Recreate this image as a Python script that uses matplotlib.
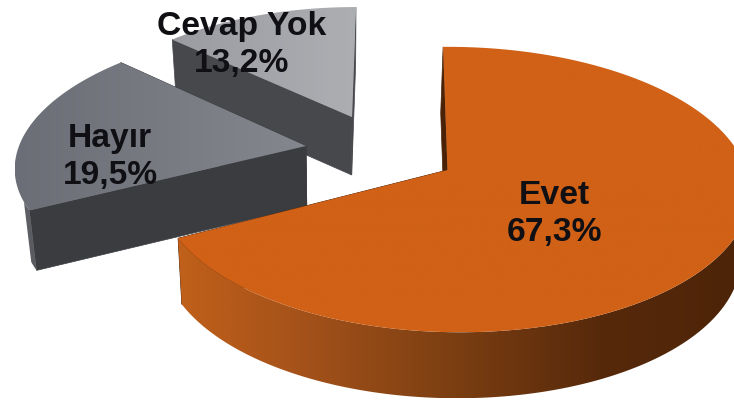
import numpy as np
import matplotlib
matplotlib.use("Agg")
import matplotlib.pyplot as plt
from matplotlib.colors import to_rgb
from matplotlib.patches import Polygon

labels = ["Evet", "Hayır", "Cevap Yok"]
values = [67.3, 19.5, 13.2]
value_text = ["67,3%", "19,5%", "13,2%"]

# Layout in pixel space; angles themselves come from the values.
W, H = 734, 403
START = 90.0
STYLE = {
    "Evet": dict(apex=(447.5, 170), R=293, Ry=140, k=.137, j=-.02, sh=-5, depth=66,
                 top=["#D06116", "#D06116"],
                 side_x=[178, 300, 450, 600, 740],
                 side_c=["#C0601A", "#A5521A", "#7C3F12", "#57290B", "#4D2408"],
                 text=(554, 214), inner="#4a2208", rim_from=-5, z=3),
    "Hayır": dict(apex=(306, 146), R=287, Ry=132, k=.10, j=0, sh=20.7, depth=60,
                  top=["#6B6E76", "#85878E"],
                  side_x=[0, 40], side_c=["#6E7077", "#55575C"],
                  text=(110, 157), inner="#3A3C40", rim_from=56, z=2),
    "Cevap Yok": dict(apex=(352, 117), R=272, Ry=126, k=.146, j=0, sh=4.6, depth=58,
                      top=["#9B9CA1", "#ADAEB2"],
                      side_x=[0, 40], side_c=["#888888", "#888888"],
                      text=(242, 45), inner="#47484C", rim_from=0, z=1),
}
VPX, VS = 340, 0.977


def rim(st, deg):
    t = np.radians(deg)
    d = 1 + st["k"] * np.sin(t) + st["j"] * np.cos(t)
    x = st["apex"][0] + (st["R"] * np.cos(t) + st["sh"] * np.sin(t)) / d
    y = st["apex"][1] - st["Ry"] * np.sin(t) / d
    return x, y


def lower(st, x, y):
    return VPX + VS * (np.asarray(x) - VPX), np.asarray(y) + st["depth"]


def gradient_fill(ax, pts, xs, colors, z):
    """Fill polygon pts with a left-to-right colour ramp anchored at xs."""
    pts = np.asarray(pts)
    poly = Polygon(pts, closed=True, fc="none", ec="none", zorder=z)
    ax.add_patch(poly)
    l, r = pts[:, 0].min(), pts[:, 0].max()
    grid = np.linspace(l, r, 512)
    rgb = np.stack([np.interp(grid, xs, [to_rgb(c)[ch] for c in colors]) for ch in range(3)], axis=-1)
    im = ax.imshow(rgb[None, :, :], aspect="auto",
                   extent=(l, r, pts[:, 1].max(), pts[:, 1].min()), zorder=z,
                   interpolation="bilinear")
    im.set_clip_path(poly)


fig = plt.figure(figsize=(W / 100, H / 100), dpi=100)
ax = fig.add_axes([0, 0, 1, 1])

edges = np.cumsum([0] + values) / sum(values) * 360
for i, name in enumerate(labels):
    st = STYLE[name]
    a0, a1 = START - edges[i], START - edges[i + 1]
    theta = np.linspace(a0, a1, 400)
    x, y = rim(st, theta)
    ax0, ay0 = st["apex"]
    z = st["z"]

    # inner cut faces
    for ex, ey in [(x[0], y[0]), (x[-1], y[-1])]:
        bx, by = lower(st, [ex, ax0], [ey, ay0])
        ax.add_patch(Polygon([(ex, ey), (ax0, ay0), (bx[1], by[1]), (bx[0], by[0])],
                             closed=True, fc=st["inner"], ec=st["inner"], lw=.5, zorder=z))

    # visible outer rim
    mask = y >= ay0 + st["rim_from"]
    if name != "Cevap Yok" and mask.any():
        rx, ry = x[mask], y[mask]
        bx, by = lower(st, rx, ry)
        gradient_fill(ax, np.r_[np.c_[rx, ry], np.c_[bx, by][::-1]],
                      st["side_x"], st["side_c"], z + .1)

    # top face
    gradient_fill(ax, np.r_[[(ax0, ay0)], np.c_[x, y]],
                  [x.min(), max(x.max(), ax0)], st["top"], z + .2)

    ax.text(*st["text"], f"{name}\n{value_text[i]}", ha="center", va="center",
            family="Liberation Sans", weight="bold", fontsize=24.2,
            color="#101014", linespacing=1.24, zorder=10)

ax.set_xlim(0, W)
ax.set_ylim(H, 0)
ax.axis("off")
fig.savefig("out.png", dpi=100, facecolor="white")
